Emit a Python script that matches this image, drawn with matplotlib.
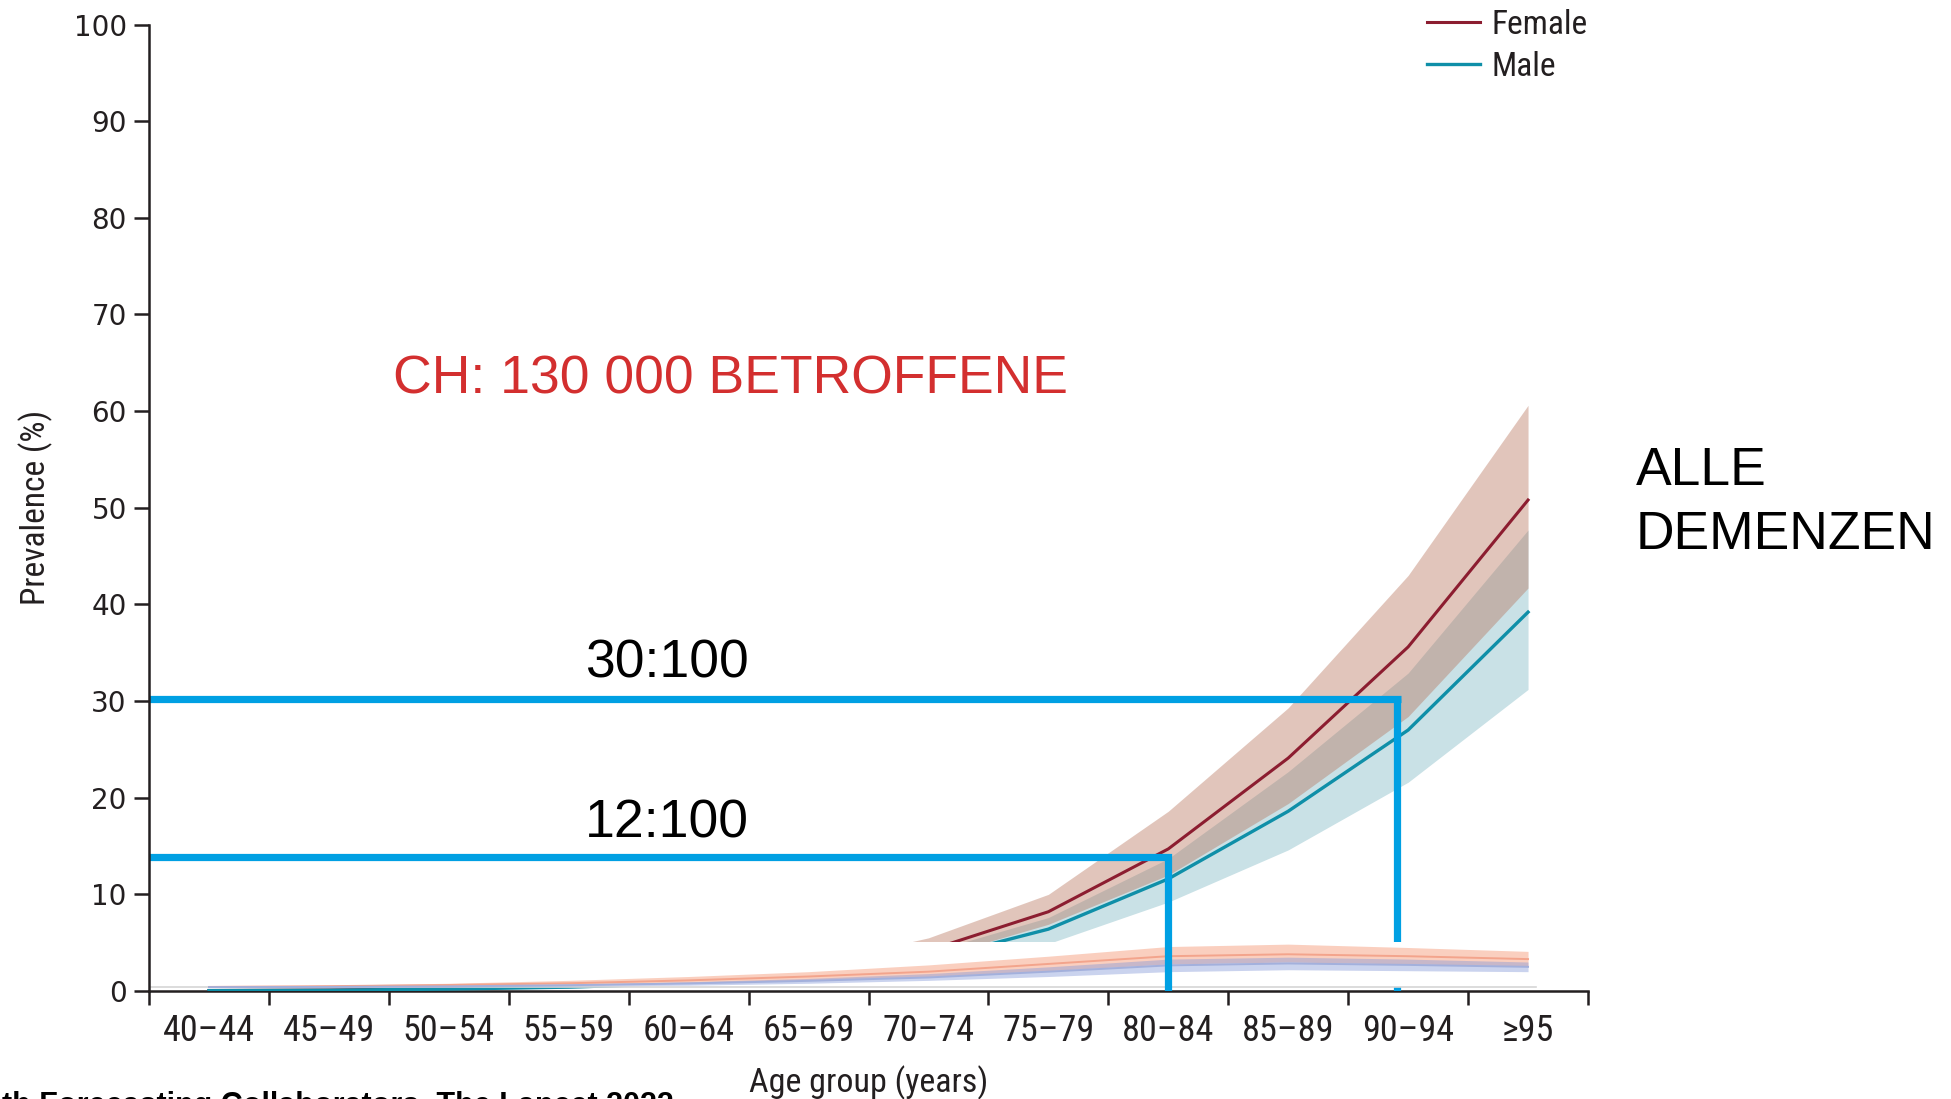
import matplotlib
matplotlib.use("Agg")
import matplotlib.pyplot as plt
from matplotlib.patches import Rectangle
import numpy as np

# ---- data -------------------------------------------------------------
age_groups = ["40–44", "45–49", "50–54", "55–59", "60–64", "65–69",
              "70–74", "75–79", "80–84", "85–89", "90–94", "≥95"]

# All dementia, prevalence (%) with uncertainty intervals
female_mean  = [0.05, 0.10, 0.25, 0.50, 1.0, 2.0, 4.2, 8.2, 14.7, 24.1, 35.6, 50.8]
female_upper = [0.08, 0.15, 0.35, 0.70, 1.4, 2.7, 5.5, 10.0, 18.6, 29.3, 43.0, 60.6]
female_lower = [0.03, 0.07, 0.18, 0.40, 0.8, 1.6, 3.3, 6.9, 12.0, 19.4, 28.4, 41.7]
male_mean    = [0.04, 0.08, 0.20, 0.40, 0.8, 1.6, 3.2, 6.4, 11.6, 18.6, 27.0, 39.2]
male_upper   = [0.06, 0.12, 0.30, 0.55, 1.1, 2.1, 4.0, 7.6, 13.7, 22.7, 32.9, 47.7]
male_lower   = [0.02, 0.05, 0.14, 0.30, 0.6, 1.2, 2.5, 4.9, 9.2, 14.6, 21.6, 31.2]

# Inset strip of a second measure (two series with intervals)
strip_a_upper = [0.45, 0.60, 0.80, 1.10, 1.50, 2.00, 2.70, 3.60, 4.60, 4.85, 4.50, 4.10]
strip_a_mean  = [0.42, 0.50, 0.62, 0.80, 1.10, 1.50, 2.00, 2.80, 3.60, 3.80, 3.60, 3.30]
strip_a_lower = [0.40, 0.45, 0.50, 0.60, 0.80, 1.10, 1.50, 2.10, 2.80, 3.00, 2.80, 2.60]
strip_b_upper = [0.40, 0.45, 0.55, 0.70, 0.95, 1.30, 1.80, 2.50, 3.30, 3.50, 3.30, 3.00]
strip_b_mean  = [0.40, 0.42, 0.48, 0.60, 0.78, 1.05, 1.40, 2.00, 2.65, 2.85, 2.70, 2.50]
strip_b_lower = [0.40, 0.40, 0.42, 0.50, 0.60, 0.80, 1.10, 1.50, 2.00, 2.20, 2.10, 2.00]
strip_top, strip_bottom, strip_right = 5.07, 0.42, 11.07

# Guide lines: prevalence level and the age-group position they point to
guide_levels = [30.2, 13.9]
guide_x      = [9.91, 8.0]
guide_labels = ["30:100", "12:100"]

yticks = list(range(0, 101, 10))

# ---- style ------------------------------------------------------------
narrow = ["Liberation Sans Narrow", "DejaVu Sans Condensed", "Roboto Condensed",
          "Roboto", "DejaVu Sans"]
arial = ["Liberation Sans", "DejaVu Sans"]
dark = "#231F20"
female_col = "#8C1D30"
male_col = "#0F8FA8"
guide_col = "#00A0E3"

fig = plt.figure(figsize=(19.51, 10.99), dpi=100)
ax = fig.add_axes([149 / 1951, 1 - 991 / 1099, (1588 - 149) / 1951, (991 - 24.5) / 1099])

x = np.arange(len(age_groups))

# uncertainty bands and means
ax.fill_between(x, male_lower, male_upper, color="#C9E1E6", lw=0, zorder=1)
ax.fill_between(x, female_lower, female_upper, color=(182/255, 112/255, 87/255, 0.40),
                lw=0, zorder=1.1)
ax.plot(x, female_mean, color=female_col, lw=2.2, zorder=2, label="Female")
ax.plot(x, male_mean, color=male_col, lw=2.4, zorder=2.1, label="Male")

# the 90-94 guide drop runs underneath the inset strip
ax.plot([guide_x[0], guide_x[0]], [guide_levels[0], 0], color=guide_col, lw=5.2,
        solid_capstyle="butt", zorder=2.5)

# inset strip
ax.add_patch(Rectangle((-0.5, strip_bottom), strip_right + 0.5, strip_top - strip_bottom,
                       facecolor="white", edgecolor="none", zorder=3))
ax.plot([-0.5, strip_right], [strip_bottom + 0.02] * 2, color="#D6D6D6", lw=1.2, zorder=3.1)
ax.fill_between(x, strip_a_lower, strip_a_upper, color=(246/255, 160/255, 128/255, 0.50),
                lw=0, zorder=3.2)
ax.fill_between(x, strip_b_lower, strip_b_upper, color=(130/255, 150/255, 215/255, 0.42),
                lw=0, zorder=3.3)
ax.plot(x, strip_a_mean, color="#F3A48C", lw=1.4, zorder=3.4)
ax.plot(x, strip_b_mean, color="#A3B0DC", lw=1.4, zorder=3.5)

# guides above everything else
ax.plot([-0.5, guide_x[0] + 0.03], [guide_levels[0]] * 2, color=guide_col, lw=5.2,
        solid_capstyle="butt", zorder=5)
ax.plot([-0.5, guide_x[1], guide_x[1]], [guide_levels[1], guide_levels[1], 0],
        color=guide_col, lw=5.2, solid_capstyle="butt", solid_joinstyle="miter", zorder=5)

# ---- axes -------------------------------------------------------------
ax.set_xlim(-0.5, len(age_groups) - 0.5)
ax.set_ylim(0, 100)
for s in ("top", "right"):
    ax.spines[s].set_visible(False)
for s in ("left", "bottom"):
    ax.spines[s].set_linewidth(1.8)
    ax.spines[s].set_color(dark)
ax.spines["left"].set_zorder(6)
ax.spines["bottom"].set_zorder(2.05)

ax.set_yticks(yticks)
ax.set_yticklabels([str(v) for v in yticks], family=["DejaVu Sans"], fontsize=20, color=dark)
ax.tick_params(axis="y", length=11, width=1.8, color=dark, pad=5)

ax.set_xticks(np.arange(-0.5, len(age_groups)), labels=[])
ax.set_xticks(x, labels=age_groups, minor=True)
ax.tick_params(axis="x", which="major", length=10, width=1.8, color=dark)
ax.tick_params(axis="x", which="minor", length=0, pad=16, labelsize=26, labelcolor=dark)
for lab in ax.get_xticklabels(minor=True):
    lab.set_family(narrow)

ax.set_xlabel("Age group (years)", family=narrow, fontsize=24.5, color=dark, va="center")
ax.xaxis.set_label_coords(0.5, -0.095)
ax.set_ylabel("Prevalence (%)", family=narrow, fontsize=24, color=dark, va="center")
ax.yaxis.set_label_coords(-0.079, 0.5)

leg = ax.legend(loc="upper left", bbox_to_anchor=(1427 / 1951, 1 - 9 / 1099),
                bbox_transform=fig.transFigure, frameon=False, borderpad=0, borderaxespad=0,
                handlelength=1.6, handletextpad=0.35, labelspacing=0.3,
                prop={"family": narrow, "size": 24})
for t in leg.get_texts():
    t.set_color(dark)

# ---- annotations ------------------------------------------------------
fig.text(393 / 1951, 1 - 393 / 1099, "CH: 130 000 BETROFFENE", family=arial,
         fontsize=38.5, color="#D32F2F", va="baseline", ha="left")
fig.text(585 / 1951, 1 - 678 / 1099, guide_labels[0], family=arial, fontsize=38.5,
         color="black", va="baseline", ha="left")
fig.text(585 / 1951, 1 - 837 / 1099, guide_labels[1], family=arial, fontsize=38.5,
         color="black", va="baseline", ha="left")
fig.text(1636 / 1951, 1 - 485 / 1099, "ALLE", family=arial, fontsize=38.5,
         color="black", va="baseline", ha="left")
fig.text(1636 / 1951, 1 - 549 / 1099, "DEMENZEN", family=arial, fontsize=38.5,
         color="black", va="baseline", ha="left")
fig.text(2 / 1951, 1 - 1114 / 1099, "th Forecasting Collaborators. The Lancet 2022",
         family=arial, fontsize=22, weight="bold", color="black", va="baseline", ha="left")

fig.savefig("out.png", dpi=100, facecolor="white")
